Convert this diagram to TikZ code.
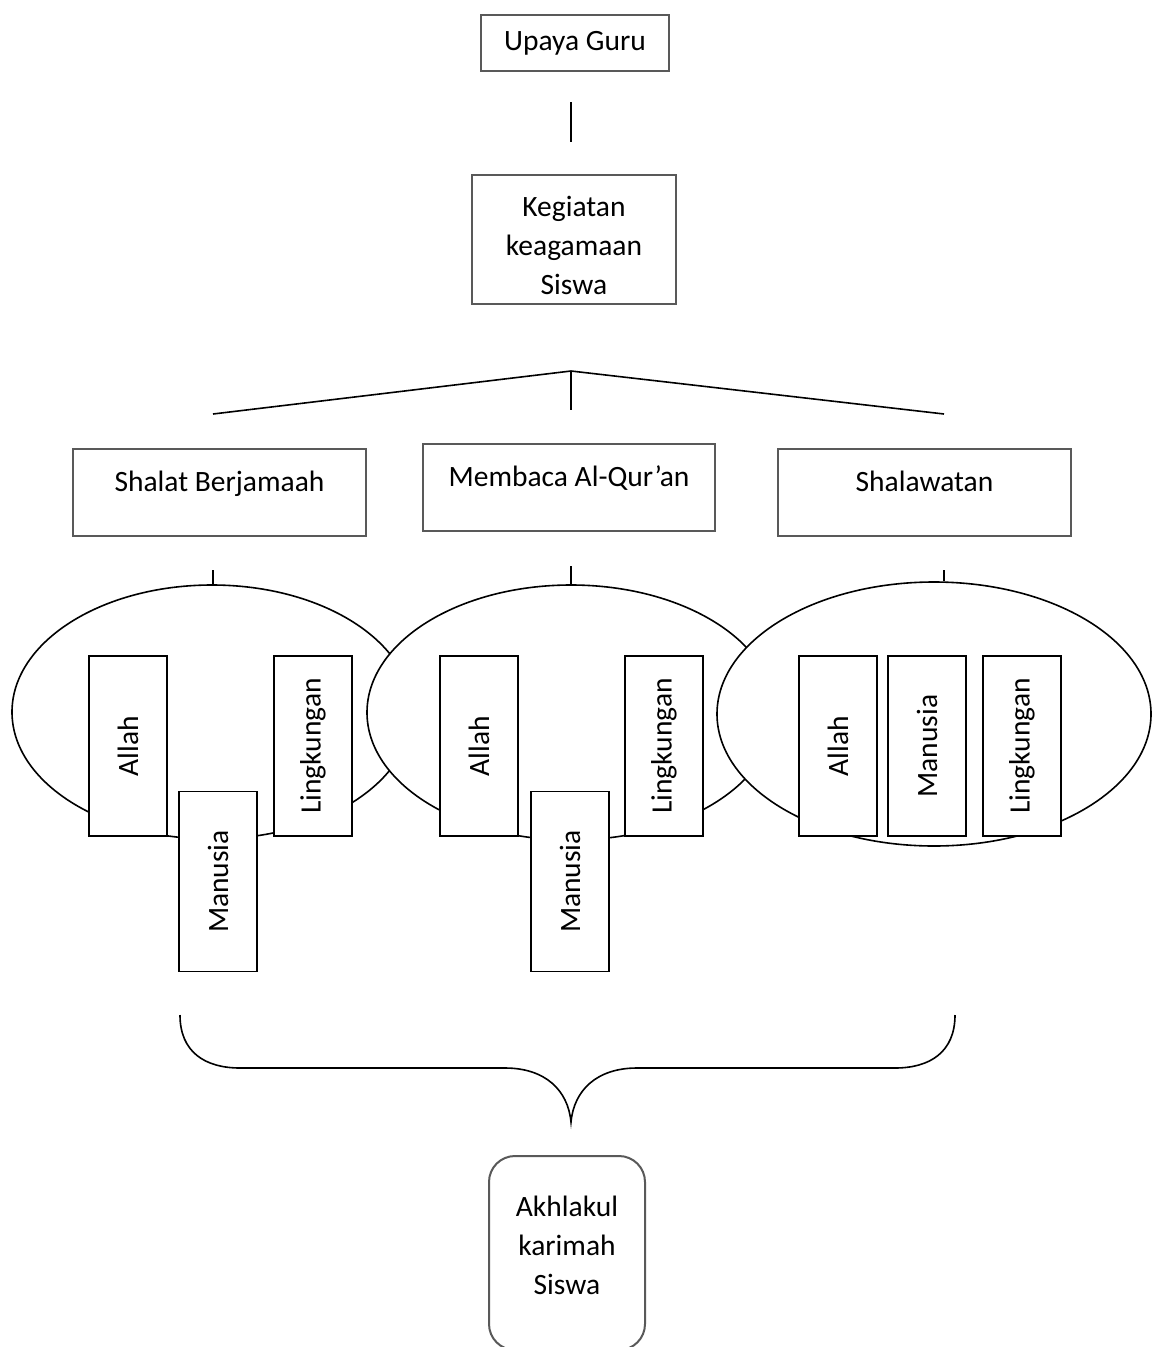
\documentclass[tikz,border=0pt]{standalone}
\usepackage{fontspec}
\setmainfont{Carlito}
\usetikzlibrary{shapes.geometric}
\tikzset{
  teks/.style={font=\fontsize{29.5}{39}\selectfont},
  kotak/.style={teks,draw=black!65,line width=2pt,fill=white,inner sep=0pt,align=center},
  satubaris/.style={kotak,text height=21pt,text depth=24pt},
  tegak/.style={teks,draw,line width=1.8pt,fill=white,inner sep=0pt,rotate=90,
    minimum width=180pt,minimum height=78pt},
  lonjong/.style={draw,ellipse,line width=1.6pt,fill=white,inner sep=0pt},
  garis/.style={line width=1.6pt}
}

\begin{document}
\begin{tikzpicture}[x=1pt,y=-1pt]
\useasboundingbox (0,0) rectangle (1153,1347);
% kotak atas
\node[kotak,minimum width=188pt,minimum height=56pt] (upaya) at (575,43) {Upaya Guru};
\coordinate (U1) at (571,102);
\coordinate (U2) at (571,142);
\draw[garis] (U1) -- (U2);
\node[kotak,text height=111pt,minimum width=204pt,minimum height=129pt] (kegiatan) at (574,239.5)
  {Kegiatan\\keagamaan\\Siswa};
% cabang
\coordinate (puncak) at (571,371);
\coordinate (cabL) at (213,414);
\coordinate (cabM) at (571,410);
\coordinate (cabR) at (944,414);
\draw[garis] (cabL) -- (puncak) -- (cabR);
\draw[garis] (puncak) -- (cabM);
\node[satubaris,minimum width=293pt,minimum height=87pt] (shalat) at (219.5,492.5) {Shalat Berjamaah};
\node[satubaris,minimum width=292pt,minimum height=87pt] (membaca) at (569,487.5) {Membaca Al-Qur’an};
\node[satubaris,minimum width=293pt,minimum height=87pt] (shalawat) at (924.5,492.5) {Shalawatan};
% lingkaran
\node[lonjong,minimum width=400pt,minimum height=254pt] (ellA) at (212,712) {};
\node[lonjong,minimum width=408pt,minimum height=255pt] (ellB) at (571,712.5) {};
\node[lonjong,minimum width=434pt,minimum height=264pt] (ellC) at (934,714) {};
\coordinate (tA) at (213,570);
\coordinate (tB) at (571,566);
\coordinate (tC) at (944,570);
\draw[garis] (tA) -- (tA |- ellA.north);
\draw[garis] (tB) -- (tB |- ellB.north);
\draw[garis] (tC) -- (tC |- ellC.north);
% hubungan
\node[tegak] (allahA) at (128,746) {Allah};
\node[tegak] (manusiaA) at (218,881.5) {Manusia};
\node[tegak] (lingA) at (313,746) {Lingkungan};
\node[tegak] (allahB) at (479,746) {Allah};
\node[tegak] (manusiaB) at (570,881.5) {Manusia};
\node[tegak] (lingB) at (664,746) {Lingkungan};
\node[tegak] (allahC) at (838,746) {Allah};
\node[tegak] (manusiaC) at (927,746) {Manusia};
\node[tegak] (lingC) at (1022,746) {Lingkungan};
% kurung kurawal
\coordinate (kurL) at (180,1015);
\coordinate (kurR) at (955,1015);
\coordinate (ujung) at (571,1122);
\draw[garis] (kurL) .. controls (180,1052) and (205,1068) .. (240,1068) -- (505,1068)
  .. controls (545,1068) and (568,1090) .. (ujung)
  .. controls (574,1090) and (597,1068) .. (637,1068) -- (895,1068)
  .. controls (930,1068) and (955,1052) .. (kurR);
\node[kotak,text depth=16pt,rounded corners=26pt,minimum width=156pt,minimum height=194pt] (akhlak) at (567,1253)
  {Akhlakul\\karimah\\Siswa};
\end{tikzpicture}
\end{document}
